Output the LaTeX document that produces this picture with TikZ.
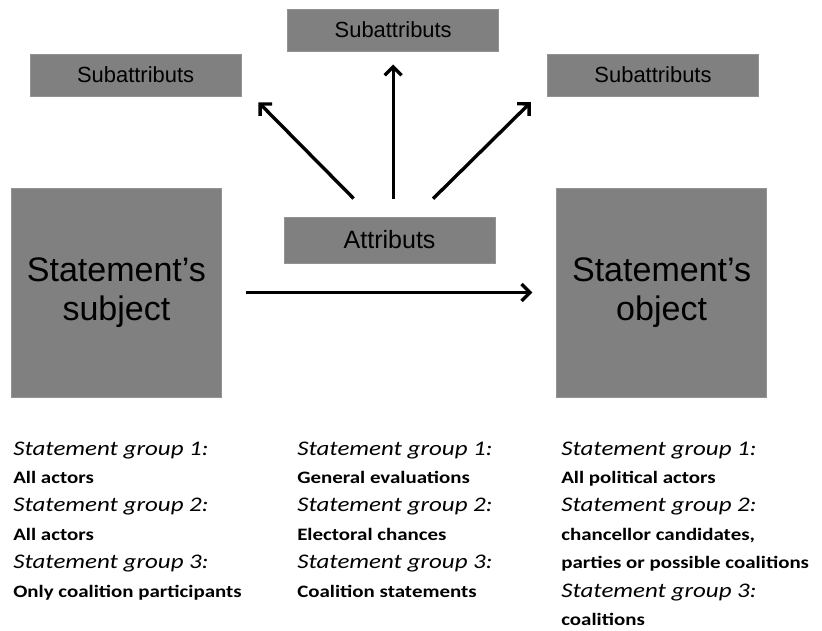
\documentclass[tikz,border=0pt]{standalone}
\usepackage{fontspec}
\setmainfont{Liberation Sans}
\newfontfamily\notefont[FakeStretch=1.2]{Carlito}
\usepackage{tikz}
\usetikzlibrary{arrows.meta}
\usetikzlibrary{positioning}
\definecolor{boxgray}{HTML}{808080}
\tikzset{
	graybox/.style = {fill=boxgray, draw=boxgray!85!white, line width=0.4pt, inner sep=0pt, align=center},
	subbox/.style = {graybox, minimum width=5.275cm, minimum height=1.05cm, font=\fontsize{15.6}{18}\selectfont},
	bigbox/.style = {graybox, minimum width=5.25cm, minimum height=5.225cm, font=\fontsize{24.2}{27.5}\selectfont},
	thickarrow/.style = {line width=2.4pt, -{Straight Barb[length=6pt, width=12pt]}},
	headline/.style = {anchor=base west, inner sep=0pt, font=\notefont\itshape\fontsize{14.8}{16}\selectfont},
	plainline/.style = {anchor=base west, inner sep=0pt, font=\notefont\bfseries\fontsize{12.4}{15}\selectfont}
}

\begin{document}
\begin{tikzpicture}
	\useasboundingbox (0,0) rectangle (20.55,15.75);
	% boxes
	\node [subbox] (subtop) at (9.83, 15.0) {Subattributs};
	\node [subbox] (subleft) at (3.39, 13.875) {Subattributs};
	\node [subbox] (subright) at (16.325, 13.875) {Subattributs};
	\node [subbox, minimum height=1.15cm, font=\fontsize{17.8}{20}\selectfont] (attr) at (9.74, 9.75) {Attributs};
	\node [bigbox] (subj) at (2.91, 8.4375) {Statement’s\\subject};
	\node [bigbox] (obj) at (16.54, 8.4375) {Statement’s\\object};

	% arrows
	\coordinate (lfoot) at ([xshift=-0.45cm]attr.north);
	\coordinate (lhead) at ([xshift=0.28cm]subleft.south east);
	\coordinate (rfoot) at ([xshift=0.63cm]attr.north);
	\coordinate (rhead) at ([xshift=-0.26cm]subright.south west);
	\draw [thickarrow, shorten <=0.6cm, shorten >=0.6cm] (subj) -- (obj);
	\draw [thickarrow, shorten <=0.45cm, shorten >=0.33cm] (attr.north -| subtop.south) -- (subtop.south);
	\draw [thickarrow, shorten <=0.64cm, shorten >=0.21cm] (lfoot) -- (lhead);
	\draw [thickarrow, shorten <=0.64cm, shorten >=0.21cm] (rfoot) -- (rhead);

	% statement groups
	\node [headline] (lh1) at (0.325, 4.375) {Statement group 1:};
	\node [plainline] (lt1) at (0.325, 3.665) {All actors};
	\node [headline] (lh2) at (0.325, 2.955) {Statement group 2:};
	\node [plainline] (lt2) at (0.325, 2.245) {All actors};
	\node [headline] (lh3) at (0.325, 1.535) {Statement group 3:};
	\node [plainline] (lt3) at (0.325, 0.825) {Only coalition participants};

	\node [headline] (mh1) at (7.425, 4.375) {Statement group 1:};
	\node [plainline] (mt1) at (7.425, 3.665) {General evaluations};
	\node [headline] (mh2) at (7.425, 2.955) {Statement group 2:};
	\node [plainline] (mt2) at (7.425, 2.245) {Electoral chances};
	\node [headline] (mh3) at (7.425, 1.535) {Statement group 3:};
	\node [plainline] (mt3) at (7.425, 0.825) {Coalition statements};

	\node [headline] (rh1) at (14.025, 4.375) {Statement group 1:};
	\node [plainline] (rt1) at (14.025, 3.665) {All political actors};
	\node [headline] (rh2) at (14.025, 2.955) {Statement group 2:};
	\node [plainline] (rt2a) at (14.025, 2.245) {chancellor candidates,};
	\node [plainline] (rt2b) at (14.025, 1.535) {parties or possible coalitions};
	\node [headline] (rh3) at (14.025, 0.825) {Statement group 3:};
	\node [plainline] (rt3) at (14.025, 0.115) {coalitions};
\end{tikzpicture}
\end{document}
